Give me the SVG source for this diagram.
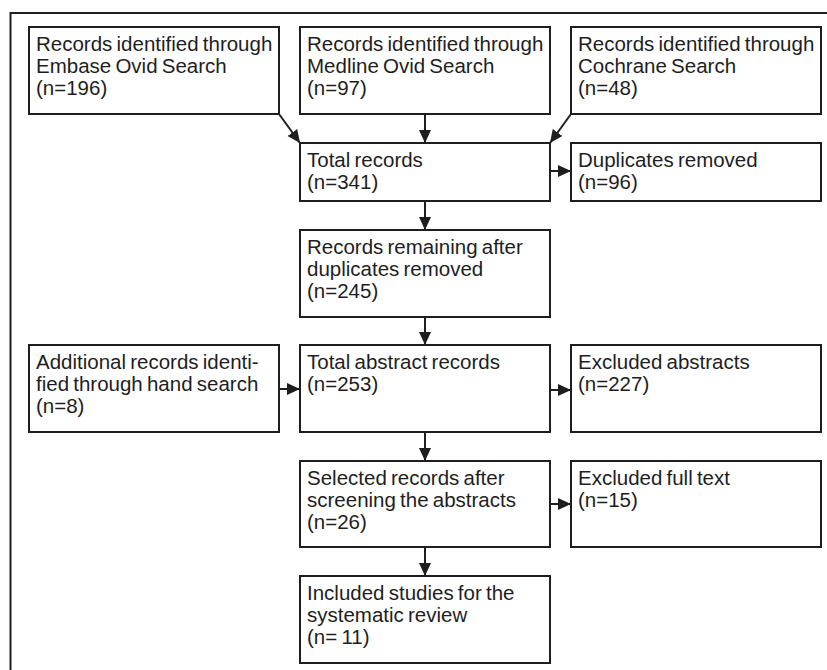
<svg xmlns="http://www.w3.org/2000/svg" width="827" height="670" viewBox="0 0 827 670">
<style>
.box{fill:#fff;stroke:#1e1e1e;stroke-width:2}
.t{font-family:"Liberation Sans",Arial,sans-serif;font-size:20.5px;fill:#1e1e1e;word-spacing:-1.5px}
.c{stroke:#1e1e1e;stroke-width:2;fill:none;marker-end:url(#ah)}
</style>
<defs>
<marker id="ah" markerUnits="userSpaceOnUse" markerWidth="14" markerHeight="13" refX="13" refY="6" orient="auto">
<path d="M0,0 L13,6 L0,12 z" fill="#1e1e1e"/>
</marker>
</defs>
<rect x="0" y="0" width="827" height="670" fill="#fff"/>
<rect x="10.5" y="13" width="840" height="680" fill="none" stroke="#1e1e1e" stroke-width="2"/>
<g id="connectors">
<line class="c" x1="279" y1="114" x2="300" y2="143"/>
<line class="c" x1="425" y1="115" x2="425" y2="143"/>
<line class="c" x1="571" y1="114" x2="550" y2="143"/>
<line class="c" x1="550" y1="171" x2="571" y2="171"/>
<line class="c" x1="425" y1="201" x2="425" y2="230"/>
<line class="c" x1="425" y1="317" x2="425" y2="345"/>
<line class="c" x1="279" y1="389" x2="300" y2="389"/>
<line class="c" x1="550" y1="390" x2="571" y2="390"/>
<line class="c" x1="425" y1="432" x2="425" y2="461"/>
<line class="c" x1="550" y1="504" x2="571" y2="504"/>
<line class="c" x1="425" y1="547" x2="425" y2="576"/>
</g>
<g id="embase">
<rect class="box" x="29" y="27" width="250" height="87"/>
<text class="t" x="36" y="51">Records identified through</text>
<text class="t" x="36" y="73">Embase Ovid Search</text>
<text class="t" x="36" y="95">(n=196)</text>
</g>
<g id="medline">
<rect class="box" x="300" y="27" width="250" height="87"/>
<text class="t" x="307" y="51">Records identified through</text>
<text class="t" x="307" y="73">Medline Ovid Search</text>
<text class="t" x="307" y="95">(n=97)</text>
</g>
<g id="cochrane">
<rect class="box" x="571" y="27" width="250" height="87"/>
<text class="t" x="578" y="51">Records identified through</text>
<text class="t" x="578" y="73">Cochrane Search</text>
<text class="t" x="578" y="95">(n=48)</text>
</g>
<g id="total">
<rect class="box" x="300" y="143" width="250" height="58"/>
<text class="t" x="307" y="167">Total records</text>
<text class="t" x="307" y="189">(n=341)</text>
</g>
<g id="duplicates">
<rect class="box" x="571" y="143" width="250" height="58"/>
<text class="t" x="578" y="167">Duplicates removed</text>
<text class="t" x="578" y="189">(n=96)</text>
</g>
<g id="remaining">
<rect class="box" x="300" y="230" width="250" height="87"/>
<text class="t" x="307" y="254">Records remaining after</text>
<text class="t" x="307" y="276">duplicates removed</text>
<text class="t" x="307" y="298">(n=245)</text>
</g>
<g id="hand">
<rect class="box" x="29" y="345" width="250" height="87"/>
<text class="t" x="36" y="369">Additional records identi-</text>
<text class="t" x="36" y="391">fied through hand search</text>
<text class="t" x="36" y="413">(n=8)</text>
</g>
<g id="abstracts">
<rect class="box" x="300" y="345" width="250" height="87"/>
<text class="t" x="307" y="369">Total abstract records</text>
<text class="t" x="307" y="391">(n=253)</text>
</g>
<g id="excluded-abstracts">
<rect class="box" x="571" y="345" width="250" height="87"/>
<text class="t" x="578" y="369">Excluded abstracts</text>
<text class="t" x="578" y="391">(n=227)</text>
</g>
<g id="selected">
<rect class="box" x="300" y="461" width="250" height="86"/>
<text class="t" x="307" y="485">Selected records after</text>
<text class="t" x="307" y="507">screening the abstracts</text>
<text class="t" x="307" y="529">(n=26)</text>
</g>
<g id="excluded-full">
<rect class="box" x="571" y="461" width="250" height="86"/>
<text class="t" x="578" y="485">Excluded full text</text>
<text class="t" x="578" y="507">(n=15)</text>
</g>
<g id="included">
<rect class="box" x="300" y="576" width="250" height="87"/>
<text class="t" x="307" y="600">Included studies for the</text>
<text class="t" x="307" y="622">systematic review</text>
<text class="t" x="307" y="644">(n= 11)</text>
</g>
</svg>
